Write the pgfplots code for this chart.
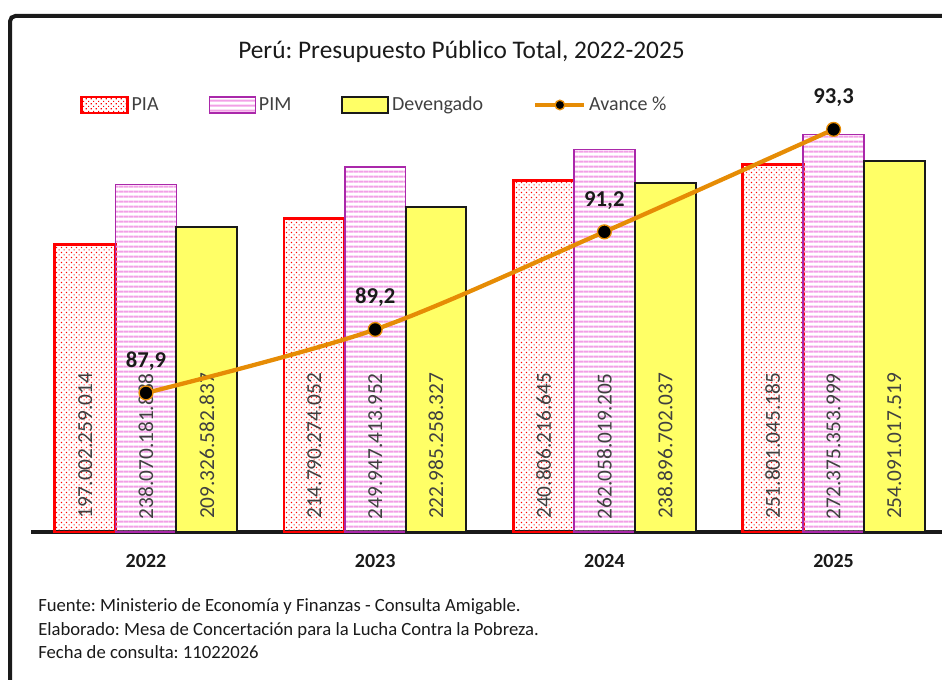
\documentclass[border=0pt]{standalone}
\usepackage{fontspec}
\setmainfont{Carlito}
\usepackage{xcolor}
\usepackage{pgfplots}
\usepackage{pgfplotstable}
\pgfplotsset{compat=1.18}
\usetikzlibrary{patterns.meta}
\frenchspacing

\definecolor{piared}{RGB}{255,0,0}
\definecolor{pimborder}{RGB}{170,40,170}
\definecolor{pimstripe}{RGB}{242,160,230}
\definecolor{devyellow}{RGB}{255,255,102}
\definecolor{avorange}{RGB}{230,140,5}
\definecolor{framegray}{RGB}{26,26,26}
\definecolor{labgray}{RGB}{64,64,64}

% red dotted fill like the spreadsheet's "dotted" pattern
\pgfdeclarepatternformonly{piadots}{\pgfqpoint{0pt}{0pt}}{\pgfqpoint{4pt}{4pt}}{\pgfqpoint{4pt}{4pt}}{%
  \pgfpathrectangle{\pgfqpoint{0.5pt}{0.5pt}}{\pgfqpoint{0.95pt}{0.95pt}}%
  \pgfpathrectangle{\pgfqpoint{2.5pt}{2.5pt}}{\pgfqpoint{0.95pt}{0.95pt}}%
  \pgfusepath{fill}}

\tikzset{
  piabar/.style={draw=piared, line width=2pt, pattern=piadots, pattern color=piared},
  pimbar/.style={draw=pimborder, line width=1.3pt, pattern={Lines[angle=0, distance=4pt, line width=1.6pt]}, pattern color=pimstripe},
  devbar/.style={draw=framegray, line width=1.5pt, fill=devyellow},
  avline/.style={color=avorange, line width=3.2pt, mark=*, mark size=5.2pt, mark options={fill=black, draw=avorange, line width=1pt}},
}
\pgfplotsset{
  box legend/.style={legend image code/.code={\draw[##1] (0pt,-6pt) rectangle (34.5pt,6pt);}},
  dot legend/.style={legend image code/.code={\draw[mark repeat=2, mark phase=2, ##1] plot coordinates {(0pt,0pt) (18.4pt,0pt) (36.75pt,0pt)};}},
  barlabel/.style={nodes near coords, point meta=explicit symbolic,
    visualization depends on={\thisrow{#1} \as \rawy},
    every node near coord/.append style={font=\fontsize{16}{19}\selectfont, text=labgray, inner sep=0pt, yshift={9pt-\rawy*1.0943pt}, rotate=90, anchor=west}},
}

% values in miles de millones (bars) and Avance % (line)
\pgfplotstableread{
x pia pim dev av piaL pimL devL
0 197.002 238.070 209.327 87.9 197.002.259.014 238.070.181.888 209.326.582.837
1 214.790 249.947 222.985 89.2 214.790.274.052 249.947.413.952 222.985.258.327
2 240.806 262.058 238.897 91.2 240.806.216.645 262.058.019.205 238.896.702.037
3 251.801 272.375 254.091 93.3 251.801.045.185 272.375.353.999 254.091.017.519
}\data

\begin{document}
\begin{tikzpicture}
\useasboundingbox (0pt,0pt) rectangle (706.5pt,-510pt);

\begin{scope}[x=0.75pt, y=-0.75pt]
\draw[framegray, line width=3pt, rounded corners=4pt] (10,720) -- (10,16) -- (980,16);
\node[anchor=base, font=\fontsize{19}{22}\selectfont, text=framegray, inner sep=0pt] at (461.5,59) {Perú: Presupuesto Público Total, 2022-2025};
\node[anchor=base west, font=\fontsize{14}{17}\selectfont, text=framegray, inner sep=0pt] at (38,611) {Fuente: Ministerio de Economía y Finanzas - Consulta Amigable.};
\node[anchor=base west, font=\fontsize{14}{17}\selectfont, text=framegray, inner sep=0pt] at (38,635) {Elaborado: Mesa de Concertación para la Lucha Contra la Pobreza.};
\node[anchor=base west, font=\fontsize{14}{17}\selectfont, text=framegray, inner sep=0pt] at (38,658) {Fecha de consulta: 11022026};
\end{scope}

\begin{axis}[
  at={(23.55pt,-399pt)}, anchor=south west,
  scale only axis, width=684.15pt, height=328.3pt,
  xmin=-0.5, xmax=3.48, ymin=0, ymax=300,
  axis y line=none, axis x line*=bottom,
  axis line style={line width=2.8pt, framegray},
  xtick={0,1,2,3}, xticklabels={2022,2023,2024,2025},
  major tick length=0pt,
  xticklabel style={font=\fontsize{15}{18}\selectfont\bfseries, text=framegray, anchor=base, yshift=-26.25pt},
  ybar=0pt, bar width=45.6pt,
  clip=false,
]
\addplot[piabar, bar shift=-45.6pt, barlabel=pia] table[x=x, y=pia, meta=piaL] {\data};
\addplot[pimbar, bar shift=0pt, barlabel=pim] table[x=x, y=pim, meta=pimL] {\data};
\addplot[devbar, bar shift=45.6pt, barlabel=dev] table[x=x, y=dev, meta=devL] {\data};
\end{axis}

\begin{axis}[
  at={(23.55pt,-399pt)}, anchor=south west,
  scale only axis, width=684.15pt, height=328.3pt,
  xmin=-0.5, xmax=3.48, ymin=85.05, ymax=94.02,
  hide axis, clip=false,
  /pgf/number format/use comma, /pgf/number format/fixed,
  /pgf/number format/fixed zerofill, /pgf/number format/precision=1,
  /pgf/number format/assume math mode=true,
  legend columns=4,
  legend style={draw=none, fill=none, inner sep=0pt, at={(0.0533,0.9755)}, anchor=west,
    font=\fontsize{15}{18}\selectfont, text=labgray,
    /tikz/every even column/.append style={column sep=35.5pt}},
]
\addlegendimage{piabar, box legend}
\addlegendimage{pimbar, box legend}
\addlegendimage{devbar, box legend}
\addlegendimage{avline, mark size=3.6pt, dot legend}
\addplot[avline, smooth, forget plot, nodes near coords,
  every node near coord/.append style={font=\fontsize{17}{20}\selectfont\bfseries, text=framegray, anchor=base, yshift=19.3pt}]
  table[x=x, y=av] {\data};
\legend{PIA, PIM, Devengado, Avance \%}
\end{axis}
\end{tikzpicture}
\end{document}
